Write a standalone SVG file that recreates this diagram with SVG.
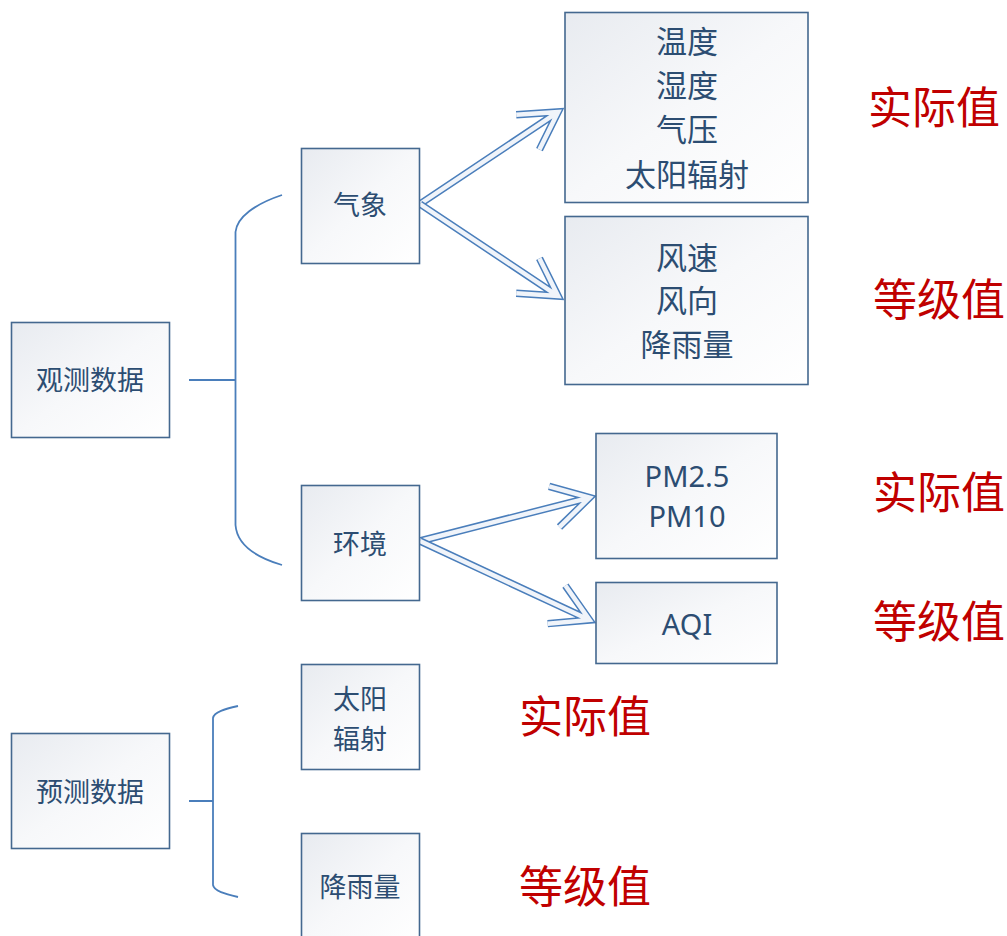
<svg xmlns="http://www.w3.org/2000/svg" width="1007" height="936" viewBox="0 0 1007 936">
<defs>
<linearGradient id="bg" x1="0" y1="0" x2="1" y2="1">
<stop offset="0" stop-color="#e8ebf0"/>
<stop offset="0.5" stop-color="#f7f8fa"/>
<stop offset="1" stop-color="#ffffff"/>
</linearGradient>
</defs>
<style>
.box{fill:url(#bg);stroke:#44688f;stroke-width:1.6}
.t{font-family:"Noto Sans CJK SC","Noto Sans",sans-serif;fill:#2c4d72;text-anchor:middle;dominant-baseline:central}
.s{font-size:27px}
.b{font-size:31px}
.l{font-family:"Noto Sans","Noto Sans CJK SC",sans-serif;font-size:29px;fill:#2c4d72;text-anchor:middle;dominant-baseline:central}
.r{font-family:"Noto Sans CJK SC",sans-serif;font-size:44px;fill:#c00000;text-anchor:middle;dominant-baseline:central}
.br{fill:none;stroke:#4a7ebb;stroke-width:1.8}
.ao{fill:none;stroke:#4a7ebb;stroke-width:7.5;stroke-linejoin:miter;stroke-miterlimit:10}
.ai{fill:none;stroke:#f0f4fa;stroke-width:4.5;stroke-linejoin:miter;stroke-miterlimit:10}
</style>
<rect width="1007" height="936" fill="#ffffff"/>
<g id="connectors">
<path class="br" d="M189,380 H235.5 M282,195 C255,204 237,217 235.5,232 V525 C237,545 255,557 282,565"/>
<path class="br" d="M189,801 H213 M238,706 C225,709 214,712 213,718 V885 C214,891 225,894 238,897"/>
<g transform="translate(420,204) rotate(-33.69)">
<path class="ao" d="M0,0 H166 M129.6,-21 L166,0 L129.6,21"/>
<path class="ai" d="M0,0 H166 M129.6,-21 L166,0 L129.6,21"/>
</g>
<g transform="translate(420,204) rotate(33.69)">
<path class="ao" d="M0,0 H166 M129.6,-21 L166,0 L129.6,21"/>
<path class="ai" d="M0,0 H166 M129.6,-21 L166,0 L129.6,21"/>
</g>
<g transform="translate(420,541) rotate(-14.34)">
<path class="ao" d="M0,0 H175 M138.6,-21 L175,0 L138.6,21"/>
<path class="ai" d="M0,0 H175 M138.6,-21 L175,0 L138.6,21"/>
</g>
<g transform="translate(420,541) rotate(24.98)">
<path class="ao" d="M0,0 H187 M150.6,-21 L187,0 L150.6,21"/>
<path class="ai" d="M0,0 H187 M150.6,-21 L187,0 L150.6,21"/>
</g>
</g>
<g id="obs"><rect class="box" x="11.5" y="322.5" width="158" height="115"/><text class="t s" x="90" y="378">观测数据</text></g>
<g id="weather"><rect class="box" x="301.5" y="148.5" width="118" height="115"/><text class="t s" x="360" y="203">气象</text></g>
<g id="env"><rect class="box" x="301.5" y="485.5" width="118" height="115"/><text class="t s" x="360" y="542">环境</text></g>
<g id="w1"><rect class="box" x="565" y="12.5" width="243" height="190"/>
<text class="t b" x="687" y="39">温度</text><text class="t b" x="687" y="83">湿度</text><text class="t b" x="687" y="127">气压</text><text class="t b" x="687" y="172">太阳辐射</text></g>
<g id="w2"><rect class="box" x="565" y="216.5" width="243" height="168"/>
<text class="t b" x="687" y="255">风速</text><text class="t b" x="687" y="298">风向</text><text class="t b" x="687" y="342">降雨量</text></g>
<g id="e1"><rect class="box" x="596" y="433.5" width="181" height="125"/>
<text class="l" x="687" y="475">PM2.5</text><text class="l" x="687" y="515">PM10</text></g>
<g id="e2"><rect class="box" x="596" y="582.5" width="181" height="81"/><text class="l" x="687" y="623">AQI</text></g>
<g id="pred"><rect class="box" x="11.5" y="733.5" width="158" height="115"/><text class="t s" x="90" y="790">预测数据</text></g>
<g id="sun"><rect class="box" x="301.5" y="664.5" width="118" height="105"/><text class="t s" x="360" y="697">太阳</text><text class="t s" x="360" y="737">辐射</text></g>
<g id="rain"><rect class="box" x="301.5" y="833.5" width="118" height="110"/><text class="t s" x="360" y="885">降雨量</text></g>
<g id="labels">
<text class="r" x="934" y="105">实际值</text>
<text class="r" x="939" y="297">等级值</text>
<text class="r" x="939" y="490">实际值</text>
<text class="r" x="939" y="619">等级值</text>
<text class="r" x="585" y="714">实际值</text>
<text class="r" x="585" y="884">等级值</text>
</g>
</svg>
